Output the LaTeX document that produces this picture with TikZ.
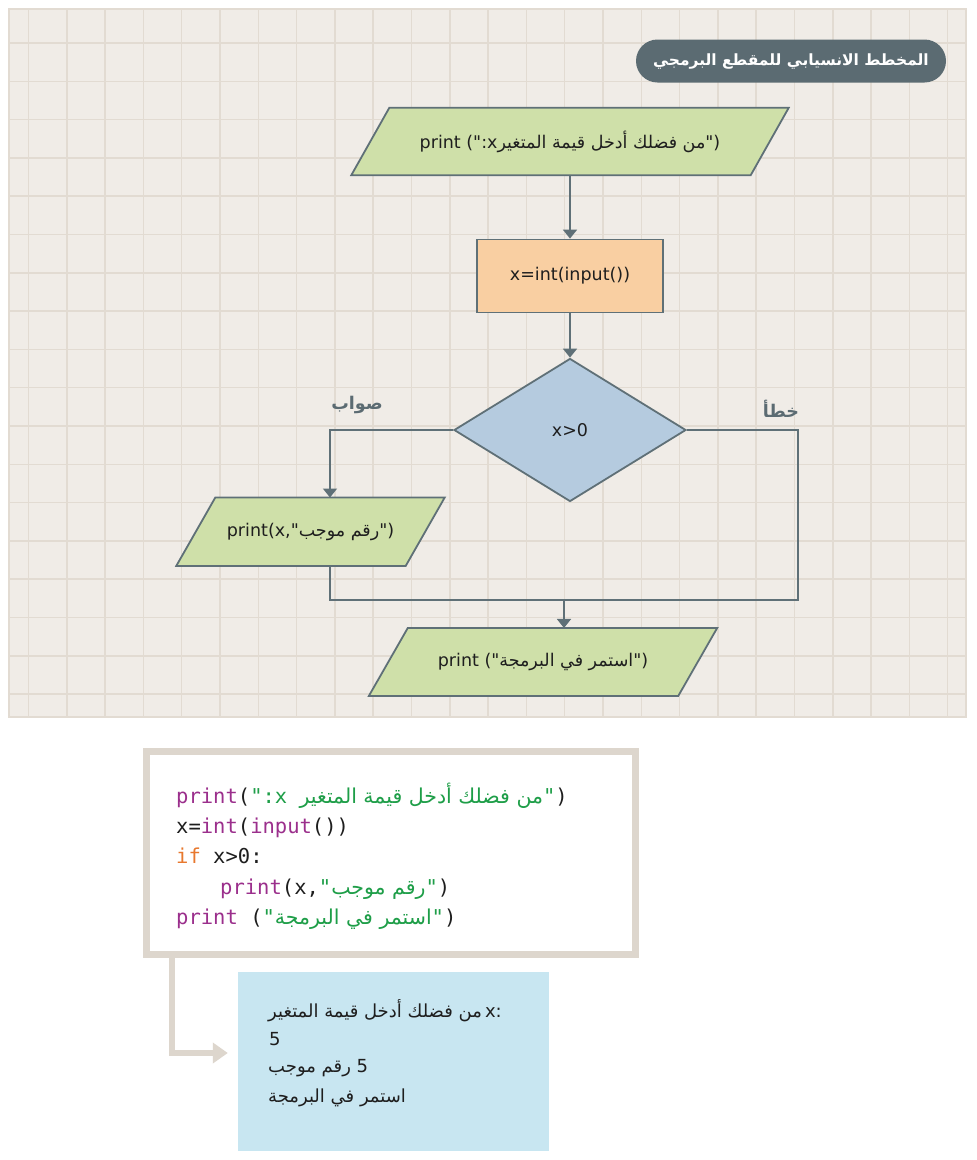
\documentclass[tikz,border=0pt]{standalone}
\usepackage{fontspec}
\setmainfont{DejaVu Sans}
\newfontfamily\lat{DejaVu Sans}
\newfontfamily\ar[Script=Arabic]{DejaVu Sans}
\newfontfamily\mono{DejaVu Sans Mono}
\TeXXeTstate=1
\usetikzlibrary{shapes.geometric,arrows.meta,calc,backgrounds}
\definecolor{panelbg}{HTML}{F0ECE7}
\definecolor{gridc}{HTML}{E2DBD2}
\definecolor{lineC}{HTML}{5F7077}
\definecolor{greenF}{HTML}{CFE0A9}
\definecolor{peachF}{HTML}{F9CFA2}
\definecolor{blueF}{HTML}{B5CBDF}
\definecolor{pillC}{HTML}{5B6B72}
\definecolor{txtC}{HTML}{1E1E1E}
\definecolor{beigeC}{HTML}{DDD6CD}
\definecolor{outF}{HTML}{C8E6F1}
\definecolor{kwP}{HTML}{9B2F8C}
\definecolor{kwG}{HTML}{1E9E48}
\definecolor{kwO}{HTML}{E8782E}
\newcommand\flowfnt{\lat\fontsize{17.5}{21}\selectfont}
\newcommand\titlefnt{\lat\fontsize{15.5}{19}\selectfont}
\newcommand\outfnt{\lat\fontsize{18}{22}\selectfont}
\newcommand\codefnt{\mono\fontsize{20.5}{24}\selectfont}
% draw the slanted outline of a text node on the background layer
\newcommand\paradraw[2]{%
  \begin{scope}[on background layer]
    \draw[parashape] ([xshift=#2]#1.north west) -- (#1.north east)
      -- ([xshift=-#2]#1.south east) -- (#1.south west) -- cycle;
  \end{scope}}
\begin{document}
\begin{tikzpicture}[x=1pt,y=-1pt,
  gridline/.style={draw=gridc, line width=1.5pt},
  shp/.style={draw=lineC, line width=1.8pt, font=\flowfnt, text=txtC, inner sep=0pt},
  parabox/.style={font=\flowfnt, text=txtC, inner sep=0pt, rectangle},
  parashape/.style={draw=lineC, line width=1.8pt, fill=greenF, line join=miter},
  procbox/.style={shp, rectangle, fill=peachF},
  decbox/.style={shp, diamond, fill=blueF},
  conn/.style={draw=lineC, line width=1.8pt, -{Triangle[width=14pt,length=9pt]}},
  plainline/.style={draw=lineC, line width=1.8pt},
  lbl/.style={font=\flowfnt\bfseries, text=pillC, inner sep=0pt},
  pill/.style={fill=pillC, rounded corners=21.5pt, minimum width=310pt, minimum height=43pt,
      text=white, font=\titlefnt\bfseries, inner sep=0pt},
  codeline/.style={font=\codefnt, text=txtC, inner sep=0pt, anchor=base west},
  outline/.style={font=\outfnt, text=txtC, inner sep=0pt, anchor=base west},
  bigconn/.style={draw=beigeC, line width=5.5pt, -{Triangle[width=20pt,length=15pt]}}
]
\useasboundingbox (0,0) rectangle (977,1160);
\begin{scope}[on background layer]
\fill[white] (0,0) rectangle (977,1160);
% panel
\fill[panelbg] (9,9) rectangle (966,717);
\foreach \i in {0,...,24} \draw[gridline] ({28.5+38.3*\i},9) -- ({28.5+38.3*\i},717);
\foreach \j in {0,...,17} \draw[gridline] (9,{43+38.3*\j}) -- (966,{43+38.3*\j});
\draw[gridline] (9,9) rectangle (966,717);
\end{scope}

% title
\node[pill] (title) at (791,61) {\ar\bfseries\beginR المخطط الانسيابي للمقطع البرمجي\endR};

% flowchart nodes
\node[parabox, minimum width=437pt, minimum height=67pt] (p1) at (570,141.5)
  {print (":x{\ar\beginR من فضلك أدخل قيمة المتغير\endR}")};
\paradraw{p1}{38pt}
\node[procbox, minimum width=186pt, minimum height=73pt] (rect) at (570,276) {x=int(input())};
\node[decbox, minimum width=232pt, minimum height=143pt] (dia) at (570,430) {x>0};
\node[parabox, minimum width=268pt, minimum height=68pt] (p2) at (310.5,531.7)
  {print(x,"{\ar\beginR رقم موجب\endR}")};
\paradraw{p2}{39pt}
\node[parabox, minimum width=348pt, minimum height=67.7pt] (p3) at (543,662)
  {print ("{\ar\beginR استمر في البرمجة\endR}")};
\paradraw{p3}{39pt}

\node[lbl] (yes) at (357,405) {\ar\bfseries\beginR صواب\endR};
\node[lbl] (no) at (781,409) {\ar\bfseries\beginR خطأ\endR};

% connectors
\coordinate (p2top) at ([xshift=19.5pt]p2.north);
\draw[conn] (p1.south) -- (rect.north);
\draw[conn] (rect.south) -- (dia.north);
\draw[conn] (dia.west) -| (p2top);
\coordinate (mR) at (798,600);
\coordinate (mL) at (p2top |- mR);
\coordinate (mC) at ($(mL)!0.5!(mR)$);
\draw[plainline] (p2.south -| mL) -- (mL) -- (mR) |- (dia.east);
\draw[conn] (mC) -- (mC |- p3.north);

% code box
\node[draw=beigeC, line width=7pt, fill=white, minimum width=489pt, minimum height=203pt, inner sep=0pt] (cb) at (391,853) {};
\node[codeline] (c1) at (176,803) {\textcolor{kwP}{print}(\textcolor{kwG}{":x {\ar\beginR من فضلك أدخل قيمة المتغير\endR}"})};
\node[codeline] (c2) at (176,833) {x=\textcolor{kwP}{int}(\textcolor{kwP}{input}())};
\node[codeline] (c3) at (176,863) {\textcolor{kwO}{if} x>0:};
\node[codeline] (c4) at (220,894) {\textcolor{kwP}{print}(x,\textcolor{kwG}{"{\ar\beginR رقم موجب\endR}"})};
\node[codeline] (c5) at (176,924) {\textcolor{kwP}{print} (\textcolor{kwG}{"{\ar\beginR استمر في البرمجة\endR}"})};

% output box
\node[fill=outF, minimum width=311pt, minimum height=179pt, inner sep=0pt] (ob) at (393.5,1061.5) {};
\node[outline] (o1) at (268,1017) {{\ar\beginR من فضلك أدخل قيمة المتغير\endR}\,x:};
\node[outline] (o2) at (269,1045) {5};
\node[outline] (o3) at (268,1072) {{\ar\beginR رقم موجب\endR} 5};
\node[outline] (o4) at (268,1102) {{\ar\beginR استمر في البرمجة\endR}};

\coordinate (bend) at (172,1053);
\draw[bigconn] (cb.south -| bend) -- (bend) -- ([xshift=-10pt]ob.west |- bend);
\end{tikzpicture}
\end{document}
